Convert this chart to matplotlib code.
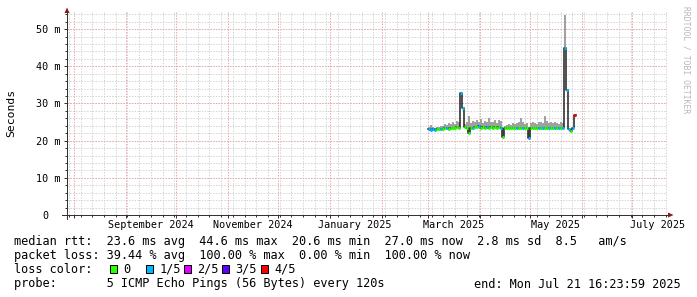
import numpy as np
import pandas as pd
import matplotlib
matplotlib.use("Agg")
import matplotlib.pyplot as plt
from matplotlib.patches import Rectangle, Polygon

plt.rcParams["font.family"] = ["DejaVu Sans Mono"]

# -----------------------------
# Data (ms), one sample every ~1.2 days
# -----------------------------
first_sample = "2025-02-28 12:00"
sample_step = pd.Timedelta(hours=28.7)

median_ms = [
    23.0, 22.9, 23.0, 22.9, 23.0, 23.1, 23.0, 23.2, 23.3, 23.3,
    23.2, 23.4, 23.3, 23.4, 23.6, 23.5, 32.7, 28.8, 23.6, 23.4,
    22.1, 23.5, 23.4, 23.6, 23.7, 24.0, 23.5, 23.6, 23.5, 23.7,
    23.5, 23.6, 23.5, 23.6, 23.5, 23.7, 23.5, 21.0, 23.4, 23.3,
    23.4, 23.3, 23.4, 23.5, 23.4, 23.5, 23.4, 23.5, 23.4, 23.5,
    20.6, 23.4, 23.5, 23.4, 23.5, 23.4, 23.5, 23.4, 23.5, 23.4,
    23.5, 23.4, 23.5, 23.4, 23.5, 23.4, 23.5, 23.4, 44.8, 33.6,
    23.2, 22.6, 23.4, 27.0,
]

smoke_top_ms = [
    23.6, 24.2, 23.6, 23.5, 23.8, 23.7, 24.0, 23.9, 24.4, 24.3,
    24.7, 24.5, 25.0, 24.6, 25.2, 24.9, 32.7, 28.8, 24.6, 25.0,
    26.6, 24.8, 25.3, 24.9, 25.6, 25.0, 25.7, 24.8, 25.4, 24.9,
    26.2, 25.1, 25.0, 25.5, 24.7, 25.5, 25.4, 23.5, 23.9, 24.3,
    24.6, 24.2, 24.8, 24.5, 24.7, 25.0, 26.0, 24.9, 24.6, 24.7,
    23.6, 24.7, 25.0, 24.8, 24.6, 24.9, 25.1, 24.8, 26.6, 25.2,
    24.7, 24.9, 24.8, 25.0, 24.8, 24.6, 24.9, 24.7, 53.8, 33.6,
    23.5, 23.0, 23.4, 27.0,
]

# lost pings out of 5 for each sample
loss = [
    1, 1, 1, 1, 0, 0, 1, 0, 0, 1,
    0, 0, 0, 0, 0, 0, 1, 1, 0, 0,
    0, 0, 1, 0, 0, 1, 0, 0, 0, 1,
    0, 0, 0, 0, 0, 0, 1, 0, 0, 0,
    0, 0, 0, 0, 1, 0, 0, 1, 0, 0,
    1, 0, 0, 0, 0, 1, 0, 1, 0, 0,
    1, 0, 0, 1, 0, 1, 0, 1, 1, 1,
    1, 0, 1, 4,
]

loss_labels = ["0", "1/5", "2/5", "3/5", "4/5"]
loss_colors = ["#26ff00", "#00b8ff", "#dd00ff", "#5e00ff", "#ff0000"]

y_ticks = [0, 10, 20, 30, 40, 50]
y_tick_labels = ["0  ", "10 m", "20 m", "30 m", "40 m", "50 m"]

month_labels = ["September 2024", "November 2024", "January 2025",
                "March 2025", "May 2025", "July 2025"]
month_label_dates = ["2024-09-16", "2024-11-16", "2025-01-16",
                     "2025-03-16", "2025-05-16", "2025-07-16"]

x_start = pd.Timestamp("2024-07-27 20:00")
x_end = pd.Timestamp("2025-07-21 16:24")

legend_lines = [
    "median rtt:  23.6 ms avg  44.6 ms max  20.6 ms min  27.0 ms now  2.8 ms sd  8.5   am/s",
    "packet loss: 39.44 % avg  100.00 % max  0.00 % min  100.00 % now",
]
probe_text = "probe:       5 ICMP Echo Pings (56 Bytes) every 120s"
end_text = "end: Mon Jul 21 16:23:59 2025"

# -----------------------------
# Figure
# -----------------------------
W, H = 697, 297
L, R, B, T = 67, 667, 215, 12

fig = plt.figure(figsize=(W / 100, H / 100), dpi=100)
fig.patch.set_facecolor("white")
ax = fig.add_axes([L / W, 1 - B / H, (R - L) / W, (B - T) / H])
ax.set_facecolor("white")

t = pd.date_range(first_sample, periods=len(median_ms), freq=sample_step)
t_edges = list(t) + [t[-1] + sample_step]
med_ext = median_ms + [median_ms[-1]]
top_ext = smoke_top_ms + [smoke_top_ms[-1]]

# grid (dotted, rrdtool style)
grid_kw = dict(linestyle=(0, (1.4, 1.4)), lw=0.72, zorder=0)
for d in pd.date_range("2024-07-29", "2025-07-21", freq="W-MON"):
    ax.axvline(d, color="#d4d4d4", **grid_kw)
for v in np.arange(2, 55, 2):
    ax.axhline(v, color="#d4d4d4", **grid_kw)
for d in pd.date_range("2024-08-01", "2025-07-01", freq="MS"):
    ax.axvline(d, color="#f0a4a4", **grid_kw)
for v in y_ticks[1:]:
    ax.axhline(v, color="#f0a4a4", **grid_kw)

# smoke
ax.fill_between(t_edges, med_ext, top_ext, step="post",
                color="#a0a0a0", lw=0, zorder=2)

# median line, dark then coloured by loss
ax.step(t_edges, med_ext, where="post", color="#202020", lw=1.1, zorder=3)
ax.hlines(median_ms, t_edges[:-1], t_edges[1:],
          colors=[loss_colors[k] for k in loss], lw=2.2, zorder=4)

ax.set_xlim(x_start, x_end)
ax.set_ylim(0, 54.6)
for s in ax.spines.values():
    s.set_visible(False)

ax.set_xticks(pd.date_range("2024-08-01", "2025-07-01", freq="MS"))
ax.set_xticks(pd.date_range("2024-07-29", "2025-07-21", freq="W-MON"), minor=True)
ax.set_xticklabels([])
ax.set_yticks(y_ticks)
ax.set_yticks(np.arange(2, 55, 2), minor=True)
ax.set_yticklabels(y_tick_labels, fontsize=7.3)
ax.tick_params(which="major", length=2.2, width=0.72, color="#333333", pad=2.2)
ax.tick_params(which="minor", length=1.5, width=0.72, color="#333333")

for lab, d in zip(month_labels, month_label_dates):
    ax.text(pd.Timestamp(d), -10.5 / (B - T), lab, transform=ax.get_xaxis_transform(),
            ha="center", va="center", fontsize=7.3)

# -----------------------------
# Overlay in pixel coordinates
# -----------------------------
ov = fig.add_axes([0, 0, 1, 1])
ov.set_xlim(0, W)
ov.set_ylim(H, 0)
ov.axis("off")

ov.plot([L, L], [219, 12], color="#333333", lw=0.72)
ov.plot([62, 668], [B, B], color="#333333", lw=0.72)
ov.add_patch(Polygon([(64.5, 13), (69.5, 13), (67, 7.5)], closed=True,
                     color="#8b1a1a", lw=0))
ov.add_patch(Polygon([(668, 212.5), (668, 217.5), (673.5, 215)], closed=True,
                     color="#8b1a1a", lw=0))

ov.text(11, 113, "Seconds", rotation=90, ha="center", va="center", fontsize=8.2)
ov.text(686, 60, "RRDTOOL / TOBI OETIKER", rotation=-90, ha="center",
        va="center", fontsize=5.8, color="#b8b8b8")

leg_kw = dict(fontsize=8.55, va="center", ha="left")
ov.text(14.5, 241.5, legend_lines[0], **leg_kw)
ov.text(14.5, 255.5, legend_lines[1], **leg_kw)
ov.text(14.5, 269.5, "loss color:", **leg_kw)
box_x = [109.5, 146, 183.5, 222, 261]
for x0, lab, c in zip(box_x, loss_labels, loss_colors):
    ov.add_patch(Rectangle((x0, 264.5), 7, 8, facecolor=c,
                           edgecolor="black", lw=0.72))
    ov.text(x0 + 13.5, 269.5, lab, **leg_kw)
ov.text(14.5, 284, probe_text, **leg_kw)
ov.text(681, 284, end_text, fontsize=8.55, va="center", ha="right")

fig.savefig("out.png", dpi=100)
